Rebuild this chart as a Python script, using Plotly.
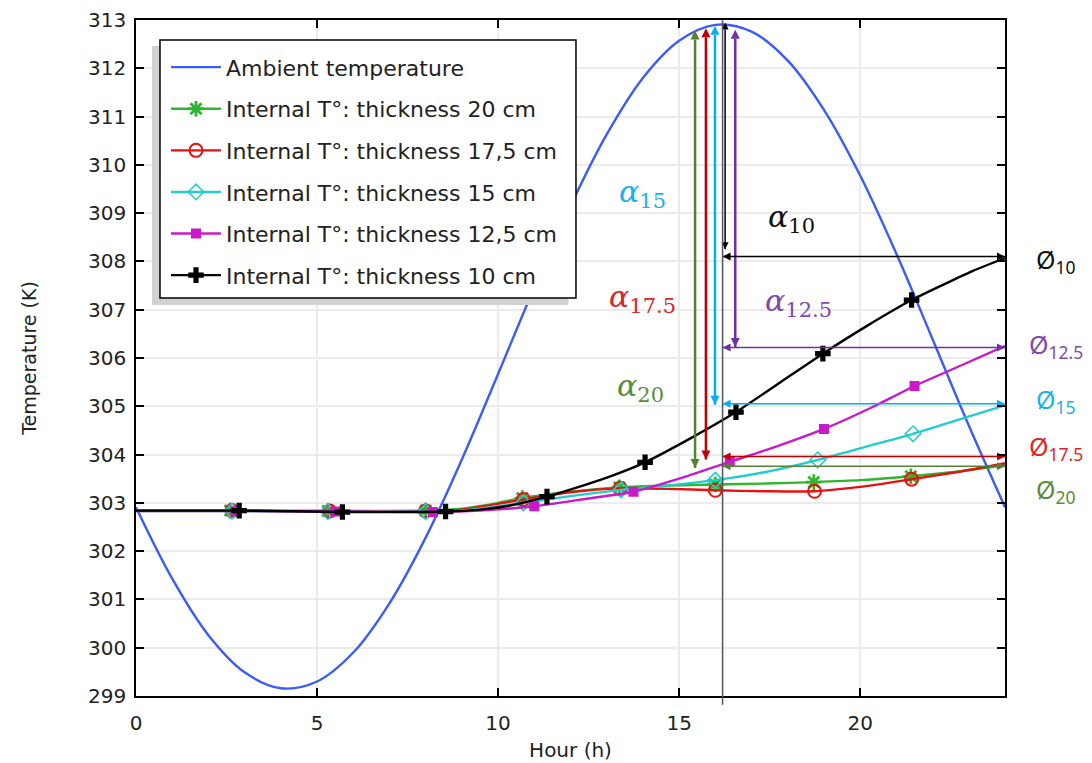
import plotly.graph_objects as go

# ---------------- data ----------------
amb_h = list(range(0, 25))
amb_T = [302.91, 301.43, 300.26, 299.49, 299.16, 299.30, 299.90, 300.92, 302.28, 303.90,
         305.67, 307.46, 309.15, 310.63, 311.80, 312.57, 312.90, 312.76, 312.16, 311.14,
         309.78, 308.16, 306.39, 304.60, 302.91]

g_h = [0, 2.6, 5.3, 8.0, 9.0, 10.0, 10.67, 12.0, 13.35, 14.7, 16.0, 17.4, 18.72, 20.0, 21.4, 22.7, 24]
g_T = [302.84, 302.84, 302.83, 302.84, 302.88, 303.0, 303.1, 303.23, 303.32, 303.36, 303.38, 303.4,
       303.43, 303.47, 303.55, 303.65, 303.78]
g_mk = [2.6, 5.3, 8.0, 10.67, 13.35, 16.0, 18.72, 21.4]

r_h = [0, 2.65, 5.35, 8.0, 9.0, 10.0, 10.7, 12.0, 13.37, 14.7, 16.0, 17.4, 18.74, 20.0, 21.42, 22.7, 24]
r_T = [302.84, 302.84, 302.83, 302.83, 302.86, 302.98, 303.07, 303.22, 303.3, 303.29, 303.26, 303.24,
       303.24, 303.33, 303.49, 303.64, 303.82]
r_mk = [2.65, 5.35, 8.0, 10.7, 13.37, 16.0, 18.74, 21.42]

c_h = [0, 2.65, 5.3, 8.0, 9.0, 10.0, 10.7, 12.0, 13.4, 14.7, 16.0, 17.4, 18.83, 20.1, 21.46, 22.7, 24]
c_T = [302.83, 302.83, 302.82, 302.82, 302.84, 302.93, 303.0, 303.14, 303.27, 303.36, 303.47, 303.64,
       303.89, 304.15, 304.43, 304.72, 305.02]
c_mk = [2.65, 5.3, 8.0, 10.7, 13.4, 16.0, 18.83, 21.46]

m_h = [0, 2.75, 5.5, 8.2, 9.5, 11.0, 12.4, 13.74, 15.0, 16.4, 17.7, 19.0, 20.3, 21.5, 22.8, 24]
m_T = [302.83, 302.83, 302.82, 302.81, 302.84, 302.93, 303.08, 303.23, 303.5, 303.85, 304.17, 304.53,
       304.97, 305.42, 305.85, 306.25]
m_mk = [2.75, 5.5, 8.2, 11.0, 13.74, 16.4, 19.0, 21.5]

k_h = [0, 2.85, 5.7, 8.55, 9.5, 10.3, 11.35, 12.1, 13.1, 14.06, 15.3, 16.57, 17.8, 18.97, 20.2, 21.42,
       22.3, 23.1, 24]
k_T = [302.84, 302.84, 302.81, 302.82, 302.86, 302.94, 303.13, 303.3, 303.55, 303.84, 304.33, 304.88,
       305.5, 306.09, 306.67, 307.2, 307.52, 307.8, 308.07]
k_mk = [2.85, 5.7, 8.55, 11.35, 14.06, 16.57, 18.97, 21.42]

legend_names = ["Ambient temperature",
                "Internal T°: thickness 20 cm",
                "Internal T°: thickness 17,5 cm",
                "Internal T°: thickness 15 cm",
                "Internal T°: thickness 12,5 cm",
                "Internal T°: thickness 10 cm"]

# phase-shift arrows: (hour, low T, high T, colour, width)
v_arrows = [(15.44, 303.72, 312.78, "#548235", 2.5),
            (15.74, 303.90, 312.83, "#c00000", 2.5),
            (15.99, 305.03, 312.88, "#00b0f0", 2.5),
            (16.27, 308.25, 312.95, "#000000", 1.5),
            (16.55, 306.23, 312.80, "#7030a0", 2.5)]
# damping arrows: (T, start hour, end hour, colour)
h_arrows = [(308.10, 16.2, 24, "#000000"),
            (306.22, 16.2, 24, "#7030a0"),
            (305.05, 16.2, 24, "#00b0f0"),
            (303.96, 16.2, 24, "#c00000"),
            (303.76, 16.2, 24, "#548235")]
ref_hour = 16.2

alpha_labels = [("15", 14.0, 309.41, "#1cb0ea"),
                ("17.5", 14.0, 307.24, "#d9262b"),
                ("20", 13.92, 305.38, "#5b8c3a"),
                ("10", 18.11, 308.89, "#111111"),
                ("12.5", 18.29, 307.14, "#7f4aaa")]
phi_labels = [("10", 308.02, "#111111"),
              ("12.5", 306.25, "#7f4aaa"),
              ("15", 305.12, "#1cb0ea"),
              ("17.5", 304.14, "#d9262b"),
              ("20", 303.25, "#5b8c3a")]

# ---------------- figure ----------------
FONT = "DejaVu Sans"
fig = go.Figure()

fig.add_trace(go.Scatter(x=amb_h, y=amb_T, mode="lines", line=dict(color="#3b5bfa", width=2.4, shape="spline"),
                         name=legend_names[0], legendgroup="a"))

series = [
    (g_h, g_T, g_mk, "#2fb52f", "asterisk-open", 13, 2.8, "g"),
    (r_h, r_T, r_mk, "#e81010", "circle-open", 13, 2.0, "r"),
    (c_h, c_T, c_mk, "#22cccc", "diamond-open", 12, 1.5, "c"),
    (m_h, m_T, m_mk, "#c81ac8", "square", 10, 0, "m"),
    (k_h, k_T, k_mk, "#000000", "cross", 13, 0, "k"),
]
for i, (hh, TT, mk, col, sym, sz, lw, grp) in enumerate(series):
    mstyle = dict(symbol=sym, size=sz, color=col, line=dict(width=lw, color=col))
    fig.add_trace(go.Scatter(x=hh, y=TT, mode="lines", line=dict(color=col, width=2.4, shape="spline", smoothing=0.6),
                             showlegend=False, legendgroup=grp, hoverinfo="skip"))
    mk_T = [TT[hh.index(v)] for v in mk]
    fig.add_trace(go.Scatter(x=mk, y=mk_T, mode="markers", marker=mstyle, showlegend=False, legendgroup=grp))
    fig.add_trace(go.Scatter(x=[None], y=[None], mode="lines+markers", line=dict(color=col, width=2.4),
                             marker=mstyle, name=legend_names[i + 1], legendgroup=grp))

# arrows drawn as line + arrow-head markers
for hx, lo, hi, col, w in v_arrows:
    fig.add_trace(go.Scatter(x=[hx, hx], y=[lo, hi], mode="lines+markers", showlegend=False, hoverinfo="skip",
                             line=dict(color=col, width=w), cliponaxis=False,
                             marker=dict(symbol=["arrow-down", "arrow-up"], size=9 if w > 2 else 7,
                                         color=col, line=dict(width=0))))
for T, h0, h1, col in h_arrows:
    fig.add_trace(go.Scatter(x=[h0, h1], y=[T, T], mode="lines+markers", showlegend=False, hoverinfo="skip",
                             line=dict(color=col, width=1.5), cliponaxis=False,
                             marker=dict(symbol=["arrow-left", "arrow-right"], size=8,
                                         color=col, line=dict(width=0))))

annotations = []
for sub, hx, T, col in alpha_labels:
    annotations.append(dict(x=hx, y=T, xref="x", yref="y", showarrow=False, xanchor="center",
                            text=f"<i>α</i><sub>{sub}</sub>", font=dict(family="DejaVu Serif", size=30, color=col)))
for sub, T, col in phi_labels:
    annotations.append(dict(x=1.059, y=T, xref="paper", yref="y", showarrow=False, xanchor="center",
                            text=f"Ø<sub>{sub}</sub>", font=dict(family="Noto Sans", size=25, color=col)))

shapes = [
    dict(type="line", xref="x", yref="paper", x0=ref_hour, x1=ref_hour, y0=-0.013, y1=1,
         line=dict(color="#555555", width=1.5), layer="above"),
    # legend shadow and frame
    dict(type="rect", xref="paper", yref="paper", x0=0.0184, x1=0.4975, y0=0.5784, y1=0.9615,
         fillcolor="#d2d2d2", line=dict(width=0), layer="above"),
    dict(type="rect", xref="paper", yref="paper", x0=0.0276, x1=0.5063, y0=0.5888, y1=0.9704,
         fillcolor="white", line=dict(width=1.5, color="black"), layer="above"),
]

fig.update_layout(
    width=1092, height=763, autosize=False,
    margin=dict(l=136, r=87, t=20, b=67),
    paper_bgcolor="white", plot_bgcolor="white",
    font=dict(family=FONT, size=20, color="#222222"),
    showlegend=True,
    legend=dict(x=0.0345, y=0.961, xanchor="left", yanchor="top", bgcolor="rgba(0,0,0,0)",
                borderwidth=0, font=dict(family=FONT, size=22, color="#222222"),
                tracegroupgap=10, traceorder="grouped", itemwidth=50),
    annotations=annotations,
    shapes=shapes,
)
fig.update_xaxes(range=[0, 24], tickvals=[0, 5, 10, 15, 20], ticks="inside", ticklen=8, tickwidth=1.5,
                 tickcolor="black", showline=True, linecolor="black", linewidth=1.5, mirror="ticks",
                 showgrid=True, gridcolor="#ebebeb", gridwidth=2, zeroline=False, automargin=False,
                 title=dict(text="Hour (h)", font=dict(size=20), standoff=9),
                 tickfont=dict(size=20), ticklabelstandoff=8)
fig.update_yaxes(range=[299, 313], dtick=1, ticks="inside", ticklen=8, tickwidth=1.5,
                 tickcolor="black", showline=True, linecolor="black", linewidth=1.5, mirror="ticks",
                 showgrid=True, gridcolor="#ebebeb", gridwidth=2, zeroline=False, automargin=False,
                 title=dict(text="Temperature (K)", font=dict(size=19), standoff=46),
                 tickfont=dict(size=20), ticklabelstandoff=4)

fig.write_html("out.html", post_script="document.body.style.margin='0px';",
               config={"displayModeBar": False})
